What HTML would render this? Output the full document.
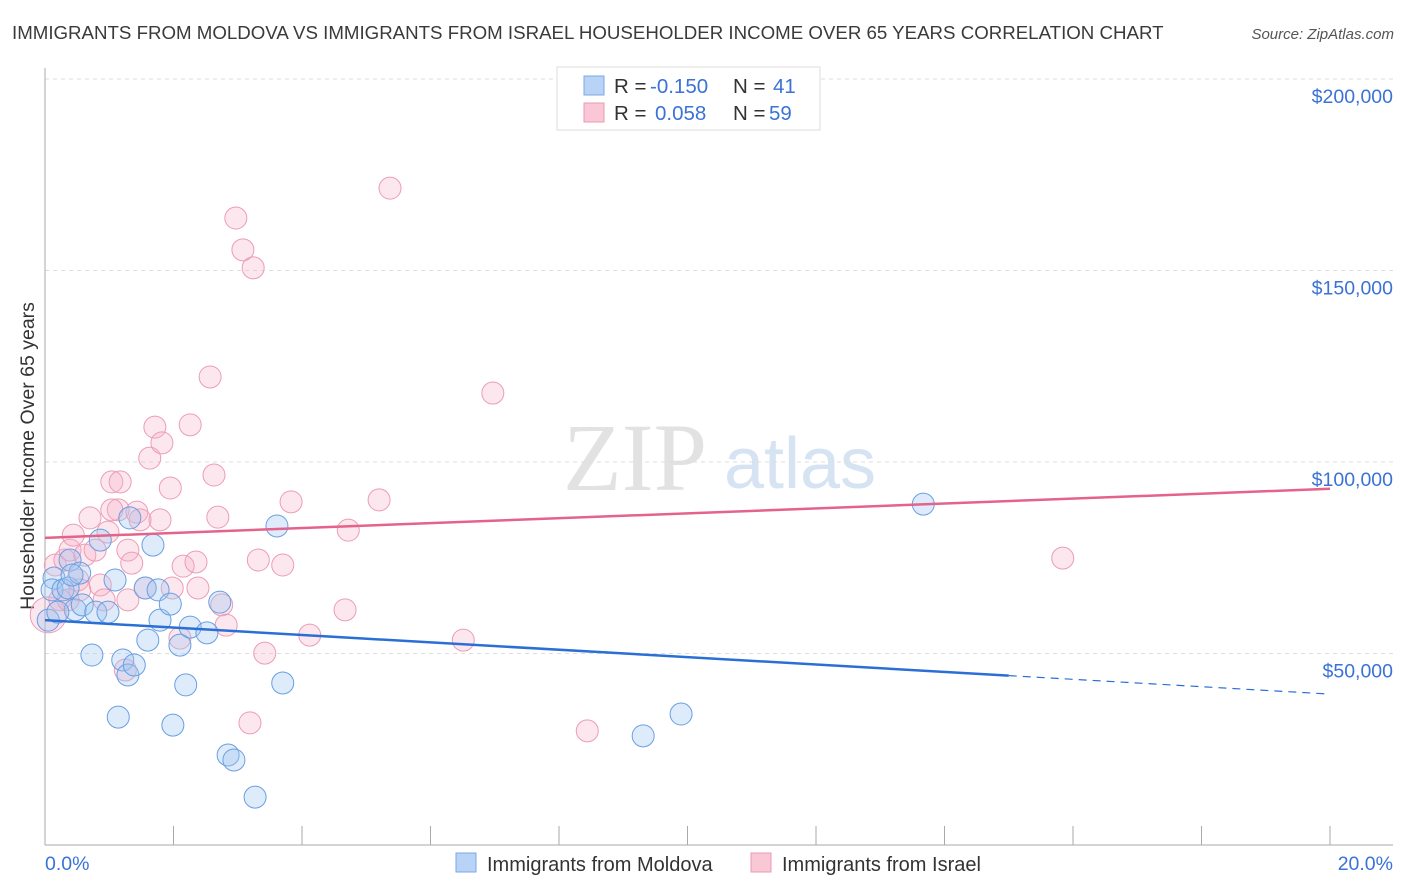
<!DOCTYPE html>
<html><head><meta charset="utf-8"><style>
body{margin:0;background:#fff;font-family:"Liberation Sans",sans-serif;}
#wrap{position:relative;width:1406px;height:892px;overflow:hidden}
</style></head><body><div id="wrap">
<svg id="svg" width="1406" height="892" xmlns="http://www.w3.org/2000/svg">
<text x="12" y="39" font-size="18.7" fill="#3a3a3a">IMMIGRANTS FROM MOLDOVA VS IMMIGRANTS FROM ISRAEL HOUSEHOLDER INCOME OVER 65 YEARS CORRELATION CHART</text>
<text x="1394" y="39" font-size="15" fill="#555" font-style="italic" text-anchor="end">Source: ZipAtlas.com</text>
<text x="34" y="456" font-size="19.5" fill="#333" text-anchor="middle" transform="rotate(-90 34 456)">Householder Income Over 65 years</text>
<g><text x="635" y="490" font-size="96" fill="#e2e2e2" font-family="Liberation Serif,serif" text-anchor="middle">ZIP</text><text x="800" y="488" font-size="72" fill="#d6e3f3" text-anchor="middle">atlas</text></g>
<g id="grid"></g><g id="axes"></g><g id="pts"></g><g id="lines"></g>
<g>
<rect x="557" y="67" width="263" height="63" fill="#fff" stroke="#ddd"/>
<rect x="584" y="76" width="20" height="19" fill="#b8d3f5" stroke="#7aa8e8"/>
<rect x="584" y="103" width="20" height="19" fill="#f9c7d6" stroke="#eb9ab3"/>
<text x="614" y="93" font-size="20.5" fill="#333">R = <tspan x="650" fill="#3a72d6">-0.150</tspan></text>
<text x="733" y="93" font-size="20.5" fill="#333">N = <tspan x="773" fill="#3a72d6">41</tspan></text>
<text x="614" y="120" font-size="20.5" fill="#333">R = <tspan x="655" fill="#3a72d6">0.058</tspan></text>
<text x="733" y="120" font-size="20.5" fill="#333">N = <tspan x="769" fill="#3a72d6">59</tspan></text>
</g>
<g>
<rect x="456" y="853" width="20" height="19" fill="#b8d3f5" stroke="#7aa8e8"/>
<text x="487" y="871" font-size="20" fill="#333">Immigrants from Moldova</text>
<rect x="751" y="853" width="20" height="19" fill="#f9c7d6" stroke="#eb9ab3"/>
<text x="782" y="871" font-size="20" fill="#333">Immigrants from Israel</text>
</g>
<text x="45" y="870" font-size="19.5" fill="#3a72d6">0.0%</text>
<text x="1393" y="870" font-size="19.5" fill="#3a72d6" text-anchor="end">20.0%</text>
</svg></div>
<script>
const yTicks=[50,100,150,200];
const yTickLabels=["$50,000","$100,000","$150,000","$200,000"];
const blueX=[0.14,0.11,0.28,0.36,0.39,0.47,0.58,0.54,0.73,0.79,0.86,0.98,1.09,1.14,1.21,1.29,1.39,1.32,1.56,1.60,1.68,1.76,1.79,1.95,1.99,2.10,2.19,2.26,2.52,2.72,2.85,2.94,3.27,3.61,3.70,9.31,9.90,13.67,0.05,0.20,0.42];
const blueY=[69.7,66.6,66.6,67.1,74.4,61.4,62.7,71.0,49.6,60.8,79.6,60.8,69.2,33.4,48.3,44.4,47.0,85.4,67.1,53.5,78.3,66.6,58.7,62.9,31.3,52.2,41.8,56.9,55.4,63.4,23.5,22.2,12.5,83.3,42.3,28.5,34.2,89.0,58.7,60.8,70.5];
const pinkX=[0.05,0.16,0.23,0.31,0.39,0.44,0.51,0.62,0.70,0.78,0.86,0.92,0.98,1.04,1.14,1.17,1.25,1.29,1.35,1.43,1.48,1.56,1.63,1.71,1.79,1.82,1.95,1.98,2.10,2.15,2.26,2.35,2.38,2.57,2.63,2.69,2.75,2.82,2.97,3.08,3.24,3.32,3.42,3.19,3.70,3.83,4.12,4.67,4.72,5.20,5.37,6.51,6.97,8.44,15.84,0.36,0.54,1.04,1.29];
const pinkY=[60.1,73.1,64.0,74.4,77.0,80.9,69.2,75.7,85.4,77.0,67.9,64.0,81.7,94.8,87.5,94.8,45.7,77.0,73.6,86.9,84.9,67.1,101.0,109.1,84.9,105.0,93.2,67.1,54.0,72.8,109.7,73.9,67.1,122.2,96.6,85.6,62.7,57.4,163.7,155.4,150.7,74.4,50.1,31.9,73.1,89.6,54.8,61.4,82.2,90.1,171.5,53.5,118.0,29.8,74.9,64.0,66.6,87.5,64.0];
const blueTrend=[58.7,39.4], blueSolidEnd=15.0;
const pinkTrend=[80.2,93.0];
const NS="http://www.w3.org/2000/svg";
const X=v=>45+v/20*1285, Y=v=>845-v*3.83;
function mk(p,t,a){const e=document.createElementNS(NS,t);for(const k in a)e.setAttribute(k,a[k]);document.getElementById(p).appendChild(e);return e;}
yTicks.forEach((t,i)=>{
 const g=mk('grid','line',{x1:45,x2:1393,y1:Y(t),y2:Y(t),stroke:'#ddd','stroke-dasharray':'4,4'});
 
 
 const l=mk('grid','text',{x:1393,y:Y(t)+24,'font-size':19.5,fill:'#3a72d6','text-anchor':'end'});
 l.textContent=yTickLabels[i];
 
 
});
const tg=mk('grid','line',{x1:45,x2:1393,y1:79,y2:79,stroke:'#ddd','stroke-dasharray':'4,4'});


const ax=mk('axes','line',{x1:45,x2:1393,y1:845,y2:845,stroke:'#aaa'});


const ay=mk('axes','line',{x1:45,x2:45,y1:68,y2:845,stroke:'#aaa'});


for(let i=0;i<=10;i++){const t=mk('axes','line',{x1:X(i*2),x2:X(i*2),y1:826,y2:845,stroke:'#aaa'});
 
 }
pinkX.forEach((x,i)=>{const c=mk('pts','circle',{cx:X(x),cy:Y(pinkY[i]),r:i===0?18:11,fill:'rgba(246,175,198,0.3)',stroke:'#ec9db6','stroke-width':1});
 
 });
blueX.forEach((x,i)=>{const c=mk('pts','circle',{cx:X(x),cy:Y(blueY[i]),r:11,fill:'rgba(160,198,240,0.35)',stroke:'#6a9fe2','stroke-width':1});
 
 });
const by=x=>blueTrend[0]+(blueTrend[1]-blueTrend[0])*x/20;
const b1=mk('lines','line',{x1:X(0),y1:Y(by(0)),x2:X(blueSolidEnd),y2:Y(by(blueSolidEnd)),stroke:'#2b6fd6','stroke-width':2.5});


const b2=mk('lines','line',{x1:X(blueSolidEnd),y1:Y(by(blueSolidEnd)),x2:X(20),y2:Y(by(20)),stroke:'#2b6fd6','stroke-width':1.2,'stroke-dasharray':'8,6'});


const p1=mk('lines','line',{x1:X(0),y1:Y(pinkTrend[0]),x2:X(20),y2:Y(pinkTrend[1]),stroke:'#e5628a','stroke-width':2.5});


</script></body></html>
